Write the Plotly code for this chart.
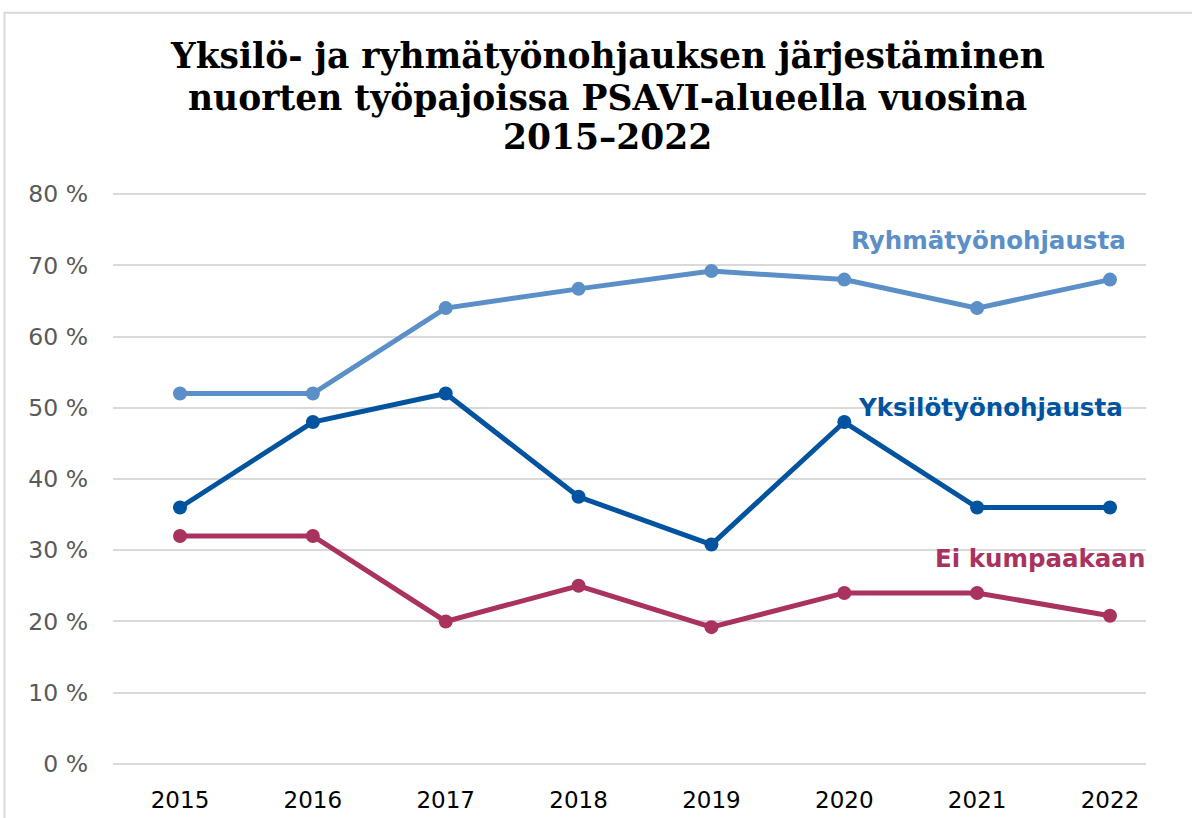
import plotly.graph_objects as go

years = ["2015", "2016", "2017", "2018", "2019", "2020", "2021", "2022"]
ryhma = [52, 52, 64, 66.7, 69.2, 68, 64, 68]
yksilo = [36, 48, 52, 37.5, 30.8, 48, 36, 36]
ei = [32, 32, 20, 25, 19.2, 24, 24, 20.8]

series_names = ["Ryhmätyönohjausta", "Yksilötyönohjausta", "Ei kumpaakaan"]
colors = ["#5B8FC7", "#00549F", "#A9325E"]
y_ticks = [0, 10, 20, 30, 40, 50, 60, 70, 80]
y_tick_text = [f"{v} %" for v in y_ticks]
title_lines = [
    "Yksilö- ja ryhmätyönohjauksen järjestäminen",
    "nuorten työpajoissa PSAVI-alueella vuosina",
    "2015–2022",
]

W, H = 1192, 818
pad = 0.3
plot_h = 570 * (80 + 2 * pad) / 80
top = 194 - 570 * pad / 80
bottom_px = top + plot_h
L, R = 113, 1146


def paper_y(py):
    return (bottom_px - py) / plot_h


def paper_x(px):
    return (px - L) / (R - L)


fig = go.Figure()
for name, vals, col in zip(series_names, [ryhma, yksilo, ei], colors):
    fig.add_trace(go.Scatter(
        x=years, y=vals, mode="lines+markers", name=name,
        line=dict(color=col, width=5),
        marker=dict(color=col, size=14),
        showlegend=False,
    ))

# series labels
label_px = [(988, 240), (990, 407), (1040, 559)]
for i, name in enumerate(series_names):
    fig.add_annotation(
        x=paper_x(label_px[i][0]), y=paper_y(label_px[i][1]), xref="paper", yref="paper",
        text=f"<b>{name}</b>", showarrow=False,
        font=dict(family="DejaVu Sans", size=24.5, color=colors[i]),
        xanchor="center", yanchor="middle",
    )

# title lines
title_py = [56, 98, 137]
for line, py in zip(title_lines, title_py):
    fig.add_annotation(
        x=paper_x(607), y=paper_y(py), xref="paper", yref="paper",
        text=f"<b>{line}</b>", showarrow=False,
        font=dict(family="DejaVu Serif", size=34.5, color="black"),
        xanchor="center", yanchor="middle",
    )

# x range so categories sit where the reference puts them (2015 at 180 px, 2022 at 1110 px)
span = 7 * (R - L) / (1110 - 180)
r0 = -(180 - L) * span / (R - L)
r1 = r0 + span

fig.update_layout(
    width=W, height=H,
    margin=dict(l=L, r=W - R, t=top, b=H - bottom_px),
    paper_bgcolor="white", plot_bgcolor="white",
    xaxis=dict(
        type="category", range=[r0, r1], showgrid=False, zeroline=False, showline=False,
        ticks="", tickfont=dict(family="DejaVu Sans", size=23, color="black"),
        ticklabelstandoff=18, automargin=False,
    ),
    yaxis=dict(
        range=[-pad, 80 + pad], tickvals=y_ticks, ticktext=y_tick_text,
        showgrid=True, gridcolor="#D9D9D9", gridwidth=2, zeroline=False, showline=False,
        ticks="", tickfont=dict(family="DejaVu Sans", size=23.5, color="#595959"),
        ticklabelstandoff=24, automargin=False,
    ),
    shapes=[dict(
        type="rect", xref="paper", yref="paper",
        x0=paper_x(4.5), x1=1.3, y0=-0.5, y1=paper_y(12.5),
        line=dict(color="#D9D9D9", width=2), fillcolor="rgba(0,0,0,0)", layer="below",
    )],
)

fig.write_html("out.html", config={"displayModeBar": False},
               post_script="document.body.style.margin='0';")
